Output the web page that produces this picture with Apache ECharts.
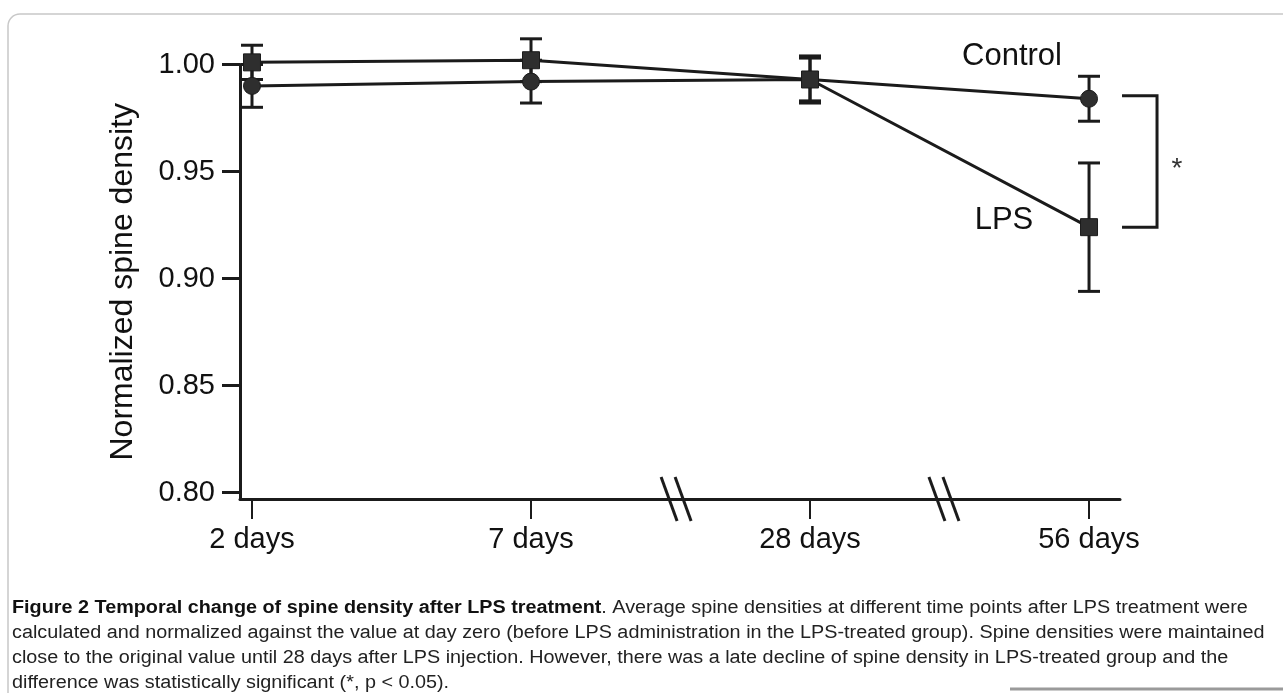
<!DOCTYPE html>
<html>
<head>
<meta charset="utf-8">
<script src="https://cdn.jsdelivr.net/npm/echarts@6/dist/echarts.min.js"></script>
<style>
  html, body { margin: 0; padding: 0; background: #fff; }
  #main { width: 1283px; height: 693px; }
</style>
</head>
<body>
<div id="main"></div>
<script>
// time points (x axis categories)
const categories = ['2 days', '7 days', '28 days', '56 days'];
// mean normalized spine density and error (half length of the bar)
const controlMean = [0.990, 0.992, 0.993, 0.984];
const controlErr = [0.010, 0.010, 0.010, 0.0105];
const lpsMean = [1.001, 1.002, 0.993, 0.924];
const lpsErr = [0.008, 0.010, 0.011, 0.030];
// y tick labels
const yTicks = [0.80, 0.85, 0.90, 0.95, 1.00];
// where the x axis is broken (between 7-28 and 28-56 days)
const breakAt = [1.52, 2.48];

const yMin = 0.797, yMax = 1.0;
const ink = '#1b1b1b';
const font = 'Liberation Sans, Arial, sans-serif';

const pts = (arr) => arr.map((v, i) => [i, v]);
const errData = (mean, err) => mean.map((v, i) => [i, v - err[i], v + err[i]]);

const errorBar = (params, api) => {
  const x = api.value(0);
  const lo = api.coord([x, api.value(1)]);
  const hi = api.coord([x, api.value(2)]);
  const w = 11;
  const st = { stroke: ink, lineWidth: 3 };
  return {
    type: 'group',
    children: [
      { type: 'line', shape: { x1: lo[0], y1: lo[1], x2: hi[0], y2: hi[1] }, style: st },
      { type: 'line', shape: { x1: hi[0] - w, y1: hi[1], x2: hi[0] + w, y2: hi[1] }, style: st },
      { type: 'line', shape: { x1: lo[0] - w, y1: lo[1], x2: lo[0] + w, y2: lo[1] }, style: st }
    ]
  };
};

// the little "//" marks on the x axis
const axisBreak = (params, api) => {
  const p = api.coord([api.value(0), yMin]);
  const st = { stroke: ink, lineWidth: 3 };
  return {
    type: 'group',
    children: [-7, 7].map(d => ({
      type: 'line',
      shape: { x1: p[0] + d - 8, y1: p[1] - 22, x2: p[0] + d + 8, y2: p[1] + 22 },
      style: st
    }))
  };
};

const chart = echarts.init(document.getElementById('main'));

const option = {
  backgroundColor: '#fff',
  animation: false,
  grid: { left: 240, right: 163, top: 64.5, bottom: 194 },
  xAxis: {
    type: 'value',
    min: -0.043,
    max: 3.111,
    splitLine: { show: false },
    axisLine: { onZero: false, lineStyle: { color: ink, width: 3 } },
    axisTick: { customValues: [0, 1, 2, 3], length: 20, lineStyle: { color: ink, width: 2 } },
    axisLabel: {
      customValues: [0, 1, 2, 3],
      formatter: v => categories[Math.round(v)],
      color: '#111', fontSize: 29, fontFamily: font, margin: 26
    }
  },
  yAxis: {
    type: 'value',
    min: yMin,
    max: yMax,
    name: 'Normalized spine density',
    nameLocation: 'middle',
    nameGap: 101,
    nameTextStyle: { color: '#111', fontSize: 32, fontFamily: font },
    splitLine: { show: false },
    axisLine: { onZero: false, lineStyle: { color: ink, width: 3 } },
    axisTick: { customValues: yTicks, length: 18, lineStyle: { color: ink, width: 3 } },
    axisLabel: {
      customValues: yTicks,
      formatter: v => v.toFixed(2),
      color: '#111', fontSize: 29, fontFamily: font, margin: 25
    }
  },
  series: [
    { type: 'custom', name: 'ctrlErr', renderItem: errorBar, data: errData(controlMean, controlErr), z: 2 },
    { type: 'custom', name: 'lpsErr', renderItem: errorBar, data: errData(lpsMean, lpsErr), z: 2 },
    {
      type: 'line', name: 'Control', data: pts(controlMean), clip: false, z: 3,
      symbol: 'circle', symbolSize: 17,
      itemStyle: { color: '#2e2e2e', borderColor: ink, borderWidth: 1 },
      lineStyle: { color: ink, width: 3 }
    },
    {
      type: 'line', name: 'LPS', data: pts(lpsMean), clip: false, z: 4,
      symbol: 'rect', symbolSize: 17,
      itemStyle: { color: '#2e2e2e', borderColor: ink, borderWidth: 1 },
      lineStyle: { color: ink, width: 3 }
    },
    { type: 'custom', name: 'breaks', renderItem: axisBreak, data: breakAt.map(x => [x]), clip: false, z: 5 }
  ]
};
chart.setOption(option);

// significance bracket between the two 56-day means
const ctrlPt = chart.convertToPixel({ gridIndex: 0 }, [3, controlMean[3]]);
const lpsPt = chart.convertToPixel({ gridIndex: 0 }, [3, lpsMean[3]]);
const bx = ctrlPt[0] + 68;

chart.setOption({
  graphic: [
    // frame round the figure
    { type: 'rect', shape: { x: 8, y: 14, width: 1300, height: 700, r: 12 },
      style: { fill: null, stroke: '#c8c8c8', lineWidth: 1.5 }, silent: true },
    { type: 'line', shape: { x1: 1010, y1: 689, x2: 1283, y2: 689 },
      style: { stroke: '#9a9a9a', lineWidth: 3 } },
    { type: 'polyline', shape: { points: [[bx - 35, ctrlPt[1] - 3], [bx, ctrlPt[1] - 3], [bx, lpsPt[1]], [bx - 35, lpsPt[1]]] },
      style: { stroke: ink, lineWidth: 3, fill: null } },
    { type: 'text', x: bx + 20, y: (ctrlPt[1] + lpsPt[1]) / 2 + 6,
      style: { text: '*', font: '28px ' + font, fill: '#333', align: 'center', verticalAlign: 'middle' } },
    { type: 'text', x: 1012, y: 56,
      style: { text: 'Control', font: '31px ' + font, fill: '#111', align: 'center', verticalAlign: 'middle' } },
    { type: 'text', x: 1004, y: 220,
      style: { text: 'LPS', font: '31px ' + font, fill: '#111', align: 'center', verticalAlign: 'middle' } },
    {
      type: 'text', x: 12, y: 596, scaleX: 1.1,
      style: {
        text: '{b|Figure 2 Temporal change of spine density after LPS treatment}. Average spine densities at different time points after LPS treatment were\n' +
          'calculated and normalized against the value at day zero (before LPS administration in the LPS-treated group). Spine densities were maintained\n' +
          'close to the original value until 28 days after LPS injection. However, there was a late decline of spine density in LPS-treated group and the\n' +
          'difference was statistically significant (*, p < 0.05).',
        font: '18px ' + font,
        fill: '#222',
        lineHeight: 25,
        rich: { b: { fontWeight: 'bold', fontSize: 18, fontFamily: font, fill: '#111', lineHeight: 25 } }
      }
    }
  ]
});
</script>
</body>
</html>
